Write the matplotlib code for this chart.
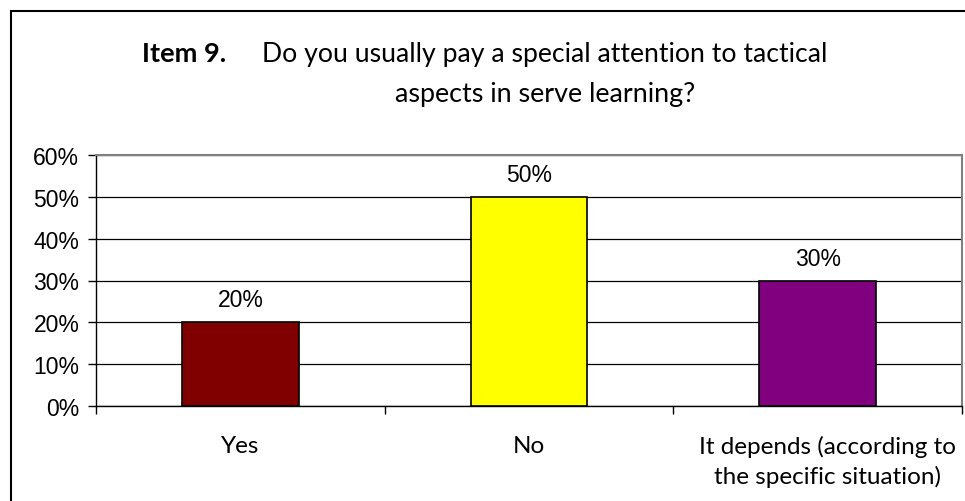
import matplotlib.pyplot as plt
import matplotlib.transforms as mtransforms
from matplotlib.patches import Rectangle

# survey answers for item 9
categories = ["Yes", "No", "It depends (according to\nthe specific situation)"]
shares = [20, 50, 30]
bar_colors = ["#800000", "#FFFF00", "#800080"]
y_ticks = [0, 10, 20, 30, 40, 50, 60]

W, H = 965, 502
fig = plt.figure(figsize=(W / 100, H / 100), dpi=100)
ax = fig.add_axes([96 / W, 1 - 407 / H, (962 - 96) / W, (407 - 156) / H])

x = range(len(categories))
ax.bar(x, shares, width=0.405, color=bar_colors, edgecolor="black", linewidth=1.2, zorder=3)
for xi, v in zip(x, shares):
    ax.annotate(f"{v}%", (xi, v), xytext=(0, 11.5), textcoords="offset points",
                ha="center", va="baseline", fontsize=16.5, family="Liberation Sans")

ax.set_xlim(-0.5, 2.5)
ax.set_ylim(0, 60)
ax.set_yticks(y_ticks)
ax.set_yticklabels([f"{t}%" for t in y_ticks], family="Liberation Sans", fontsize=16.5)
ax.yaxis.grid(True, color="black", linewidth=0.9, zorder=0)
ax.tick_params(axis="y", length=6, width=1, pad=6)

# category labels sit between the boundary ticks
ax.set_xticks(list(x))
ax.set_xticklabels(categories, family="Lato", fontsize=17.5, linespacing=1.45)
ax.tick_params(axis="x", which="major", length=0, pad=21)
ax.set_xticks([-0.5, 0.5, 1.5, 2.5], minor=True)
ax.tick_params(axis="x", which="minor", length=6, width=1, direction="out")
shift = mtransforms.ScaledTranslation(10 / 100, 0, fig.dpi_scale_trans)
lbl = ax.get_xticklabels()[2]
lbl.set_transform(lbl.get_transform() + shift)

for side in ["top", "right"]:
    ax.spines[side].set_color("#808080")
    ax.spines[side].set_linewidth(1.5)
for side in ["left", "bottom"]:
    ax.spines[side].set_color("black")
    ax.spines[side].set_linewidth(1)

# title in two lines with a bold item number
fig.text(142 / W, 1 - 62 / H, "Item 9.", fontsize=19.5, family="Lato", weight="bold", va="baseline")
fig.text(262 / W, 1 - 62 / H, "Do you usually pay a special attention to tactical",
         fontsize=19.2, family="Lato", va="baseline")
fig.text(395 / W, 1 - 102 / H, "aspects in serve learning?", fontsize=19.4, family="Lato", va="baseline")

# chart frame
fig.patches.append(Rectangle((11 / W, -0.1), 1.2, 1 - 12 / H + 0.1, transform=fig.transFigure,
                             fill=False, edgecolor="black", linewidth=1.5))

fig.savefig("out.png", dpi=100)
